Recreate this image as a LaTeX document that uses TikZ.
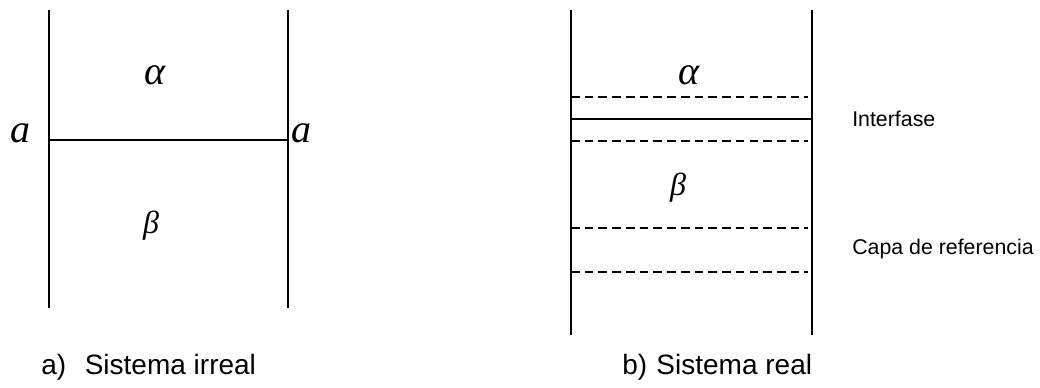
\documentclass[tikz,border=0pt]{standalone}
\usepackage{fontspec}
\setmainfont{Liberation Sans}
\newfontfamily\serifit{Liberation Serif}[ItalicFont=* Italic]
\begin{document}
\begin{tikzpicture}[x=0.75pt,y=-0.75pt,
  wall/.style={line width=1.1pt},
  dline/.style={line width=1.1pt,dash pattern=on 6.5pt off 3.8pt},
  greek/.style={inner sep=0pt,font=\serifit\itshape\fontsize{30}{30}\selectfont},
  lbl/.style={inner sep=0pt,anchor=west,font=\fontsize{16}{16}\selectfont},
  captext/.style={inner sep=0pt,anchor=west,font=\fontsize{21}{21}\selectfont}]
\useasboundingbox (0,0) rectangle (1040,388);
% left system
\coordinate (LT1) at (49,10); \coordinate (LB1) at (49,308);
\coordinate (LT2) at (288,10); \coordinate (LB2) at (288,308);
\coordinate (LM1) at (49,140); \coordinate (LM2) at (288,140);
\draw[wall] (LT1) -- (LB1);
\draw[wall] (LT2) -- (LB2);
\draw[wall] (LM1) -- (LM2);
\node[greek] (alphaL) at (155,75) {α};
\node[greek,font=\serifit\itshape\fontsize{24}{24}\selectfont] (betaL) at (151,226) {β};
\node[greek,anchor=base] (aL) at (21,143) {a};
\node[greek,anchor=base] (aR) at (301,143) {a};
\node[captext] (capA) at (41,367) {a)\hspace{14pt}Sistema irreal};
% right system
\coordinate (RT1) at (571,10); \coordinate (RB1) at (571,335);
\coordinate (RT2) at (812,10); \coordinate (RB2) at (812,335);
\draw[wall] (RT1) -- (RB1);
\draw[wall] (RT2) -- (RB2);
\coordinate (S1) at (571,119); \coordinate (S2) at (812,119);
\draw[wall] (S1) -- (S2);
\foreach \yy/\nm in {97/d1,141/d2,228/d3,272/d4}{
  \coordinate (\nm a) at (571,\yy); \coordinate (\nm b) at (808,\yy);
  \draw[dline] (\nm a) -- (\nm b);
}
\node[greek] (alphaR) at (689,75) {α};
\node[greek,font=\serifit\itshape\fontsize{24}{24}\selectfont] (betaR) at (678,188) {β};
\node[lbl] (inter) at (852,119) {Interfase};
\node[lbl] (capa) at (852,249) {Capa de referencia};
\node[captext] (capB) at (622,367) {b)\hspace{7pt}Sistema real};
\end{tikzpicture}
\end{document}
